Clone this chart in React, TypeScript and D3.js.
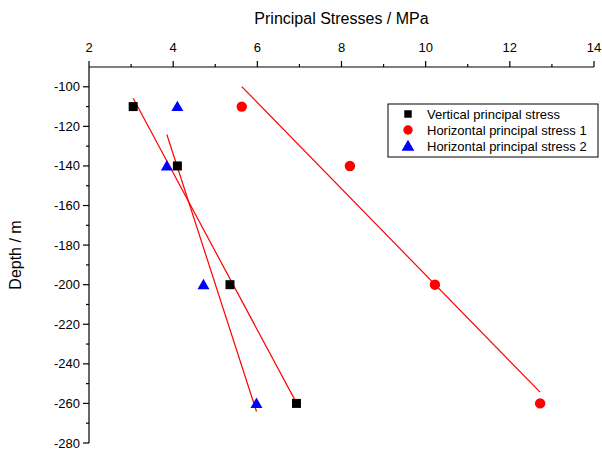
import React from 'react';
import * as d3 from 'd3';

// depth levels (m)
const depths = [-110, -140, -200, -260];
// stresses (MPa) at each depth
const verticalStress = [3.05, 4.1, 5.35, 6.93];
const horizontalStress1 = [5.63, 8.2, 10.22, 12.72];
const horizontalStress2 = [4.1, 3.85, 4.72, 5.98];

const xMajorTicks = [2, 4, 6, 8, 10, 12, 14];
const xMinorTicks = [3, 5, 7, 9, 11, 13];
const yMajorTicks = [-100, -120, -140, -160, -180, -200, -220, -240, -260, -280];
const yMinorTicks = [-110, -130, -150, -170, -190, -210, -230, -250, -270];

const legendLabels = [
  'Vertical principal stress',
  'Horizontal principal stress 1',
  'Horizontal principal stress 2',
];

const W = 602;
const H = 450;
const margin = { top: 67, right: 8, bottom: 7, left: 89 };
const FONT = '"Liberation Sans", Arial, Helvetica, sans-serif';

// linear fit of depth against stress, drawn over the stress range of the data
function fitLine(xs: number[], ys: number[]) {
  const mx = d3.mean(xs)!;
  const my = d3.mean(ys)!;
  let sxy = 0;
  let sxx = 0;
  xs.forEach((x, i) => {
    sxy += (x - mx) * (ys[i] - my);
    sxx += (x - mx) * (x - mx);
  });
  const b = sxy / sxx;
  const [x0, x1] = d3.extent(xs) as [number, number];
  return [
    { x: x0, y: my + b * (x0 - mx) },
    { x: x1, y: my + b * (x1 - mx) },
  ];
}

export default function App() {
  const x = d3.scaleLinear().domain([2, 14]).range([margin.left, W - margin.right]);
  const y = d3.scaleLinear().domain([-90, -280]).range([margin.top, H - margin.bottom]);

  const line = d3
    .line<{ x: number; y: number }>()
    .x(d => x(d.x))
    .y(d => y(d.y));

  const series = [verticalStress, horizontalStress1, horizontalStress2];
  const fits = series.map(s => fitLine(s, depths));

  const square = d3.symbol().type(d3.symbolSquare).size(81)()!;
  const circle = d3.symbol().type(d3.symbolCircle).size(85)()!;
  const triangle = d3.symbol().type(d3.symbolTriangle).size(62)()!;
  const shapes = [square, circle, triangle];
  const colors = ['#000000', '#ff0000', '#0000ff'];

  const x0 = margin.left;
  const yTop = margin.top;
  const yBottom = H - margin.bottom;

  return (
    <svg
      width={W}
      height={H}
      style={{ position: 'absolute', left: 0, top: 0, background: '#fff' }}
      fontFamily={FONT}
    >
      {/* fit lines */}
      {fits.map((f, i) => (
        <path key={'fit' + i} d={line(f)!} fill="none" stroke="#ff0000" strokeWidth={1.2} />
      ))}

      {/* markers */}
      {series.map((s, si) =>
        s.map((v, i) => (
          <path
            key={`m${si}-${i}`}
            d={shapes[si]}
            transform={`translate(${x(v)},${y(depths[i]) + (si === 2 ? 1 : 0)})`}
            fill={colors[si]}
          />
        ))
      )}

      {/* top x axis */}
      <line x1={x0} x2={x(14)} y1={yTop} y2={yTop} stroke="#000" strokeWidth={1.2} />
      {xMajorTicks.map(t => (
        <g key={'xt' + t}>
          <line x1={x(t)} x2={x(t)} y1={yTop} y2={yTop - 6} stroke="#000" strokeWidth={1.2} />
          <text x={x(t)} y={yTop - 15} textAnchor="middle" fontSize={13}>
            {t}
          </text>
        </g>
      ))}
      {xMinorTicks.map(t => (
        <line key={'xm' + t} x1={x(t)} x2={x(t)} y1={yTop} y2={yTop - 3} stroke="#000" strokeWidth={1.2} />
      ))}
      <text x={(x(2) + x(14)) / 2} y={24} textAnchor="middle" fontSize={16}>
        Principal Stresses / MPa
      </text>

      {/* left y axis */}
      <line x1={x0} x2={x0} y1={yTop} y2={yBottom} stroke="#000" strokeWidth={1.2} />
      {yMajorTicks.map(t => (
        <g key={'yt' + t}>
          <line x1={x0} x2={x0 - 6} y1={y(t)} y2={y(t)} stroke="#000" strokeWidth={1.2} />
          <text x={x0 - 9} y={y(t)} dy="0.35em" textAnchor="end" fontSize={13}>
            {t}
          </text>
        </g>
      ))}
      {yMinorTicks.map(t => (
        <line key={'ym' + t} x1={x0} x2={x0 - 3} y1={y(t)} y2={y(t)} stroke="#000" strokeWidth={1.2} />
      ))}
      <text
        transform={`translate(21,${(yTop + yBottom) / 2}) rotate(-90)`}
        textAnchor="middle"
        fontSize={16}
      >
        Depth / m
      </text>

      {/* legend */}
      <g transform="translate(388,104)">
        <rect x={0} y={0} width={210} height={53} fill="#fff" stroke="#000" strokeWidth={1} />
        {legendLabels.map((l, i) => (
          <g key={'lg' + i} transform={`translate(0,${10 + i * 16})`}>
            <path
              d={d3.symbol().type([d3.symbolSquare, d3.symbolCircle, d3.symbolTriangle][i]).size(i === 0 ? 56 : 70)()!}
              transform={`translate(20,${i === 2 ? 1 : 0})`}
              fill={colors[i]}
            />
            <text x={39} y={0} dy="0.35em" fontSize={13}>
              {l}
            </text>
          </g>
        ))}
      </g>
    </svg>
  );
}
